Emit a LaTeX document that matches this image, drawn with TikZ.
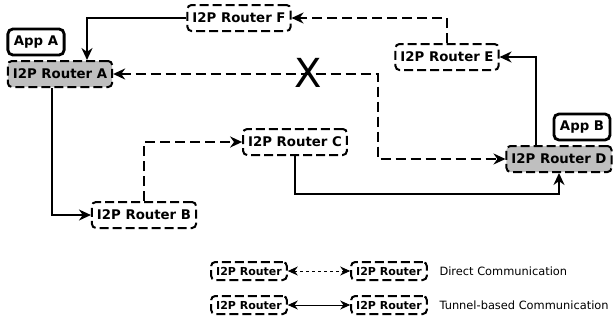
\documentclass[tikz,border=0pt]{standalone}
\usepackage{fontspec}
\setmainfont{DejaVu Sans}
\usetikzlibrary{arrows.meta, positioning, calc}

\tikzset{
  router/.style={draw, dash pattern=on 9pt off 4pt, line width=2pt, rounded corners=4pt,
    font=\bfseries\fontsize{13.3}{15}\selectfont, inner xsep=5pt, minimum height=26pt},
  gate/.style={router, fill=black!25},
  app/.style={draw, line width=2.8pt, rounded corners=5pt,
    font=\bfseries\fontsize{13.3}{15}\selectfont, inner xsep=6pt, minimum height=26pt},
  link/.style={line width=2pt, -{Stealth[length=12pt,width=11pt]}},
  hop/.style={link, dash pattern=on 10pt off 5pt},
  keybox/.style={router, font=\bfseries\fontsize{11}{12}\selectfont, inner xsep=5pt,
    inner ysep=1pt, minimum height=18pt, dash pattern=on 9pt off 4pt},
  keytext/.style={anchor=west, font=\fontsize{11.4}{13}\selectfont},
}

\begin{document}
\begin{tikzpicture}[x=1pt, y=-1pt]
\useasboundingbox (0,0) rectangle (613,322);

% routers
\node[gate]   (A) at (60,74)   {I2P Router A};
\node[router] (B) at (144,215) {I2P Router B};
\node[router] (C) at (295,142) {I2P Router C};
\node[gate]   (D) at (559,159) {I2P Router D};
\node[router] (E) at (447,57)  {I2P Router E};
\node[router] (F) at (239,18)  {I2P Router F};

% apps
\node[app] (appA) at (36,42)  {App A};
\node[app] (appB) at (582,127) {App B};

% tunnels
\draw[link] (A.south -| 52,0) |- (B.west);
\draw[link] (C.south) |- (400,194) -| (D.south);
\draw[link] (D.north -| 536,0) |- (E.east);
\draw[link] (F.west) -| (A.north -| 87,0);

% direct hops
\draw[hop] (B.north) |- (C.west);
\draw[hop] (E.north) |- (F.east);
\coordinate (turn) at (378,0);
\draw[hop, {Stealth[length=12pt,width=11pt]}-{Stealth[length=12pt,width=11pt]}] (A.east) -- (A.east -| turn) |- (D.west);
\node[font=\fontsize{40}{40}\selectfont, inner sep=0pt] (cut) at (308,73) {X};

% legend
\node[keybox] (k1) at (249,271) {I2P Router};
\node[keybox] (k2) at (389,271) {I2P Router};
\node[keybox] (k3) at (249,305) {I2P Router};
\node[keybox] (k4) at (389,305) {I2P Router};
\draw[line width=0.9pt, dash pattern=on 3pt off 3pt, {Stealth[length=10pt,width=9pt]}-{Stealth[length=10pt,width=9pt]}] (k1) -- (k2);
\draw[line width=0.9pt, {Stealth[length=10pt,width=9pt]}-{Stealth[length=10pt,width=9pt]}] (k3) -- (k4);
\node[keytext] (t1) at (436,271) {Direct Communication};
\node[keytext] (t2) at (436,305) {Tunnel-based Communication};
\end{tikzpicture}
\end{document}
